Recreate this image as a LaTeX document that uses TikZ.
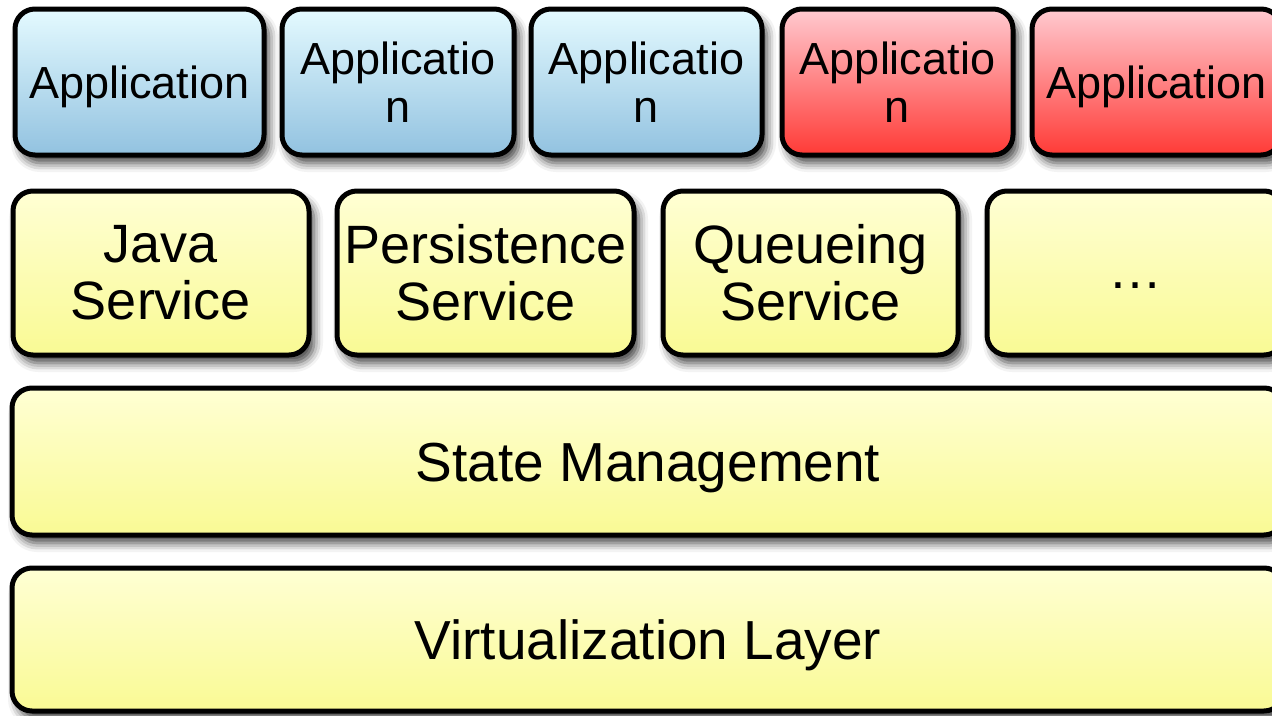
\documentclass[tikz,border=0pt]{standalone}
\usepackage{fontspec}
\setmainfont{Liberation Sans}
\usetikzlibrary{shadows.blur}

\definecolor{apptop}{RGB}{228,250,255}
\definecolor{appbot}{RGB}{146,194,224}
\definecolor{redtop}{RGB}{255,202,208}
\definecolor{redbot}{RGB}{255,58,54}
\definecolor{yeltop}{RGB}{255,255,212}
\definecolor{yelbot}{RGB}{249,250,148}

\begin{document}
\begin{tikzpicture}[x=1pt, y=-1pt,
    box/.style={draw=black, line width=5pt, rounded corners=20pt, align=center, inner sep=0pt,
      blur shadow={shadow xshift=5pt, shadow yshift=-8pt, shadow blur radius=9pt, shadow opacity=75}},
    oneline/.style={text height=#1, text depth=0pt},
    appbox/.style={box, top color=apptop, bottom color=appbot, minimum height=146pt,
      font=\fontsize{45}{48}\selectfont},
    redbox/.style={appbox, top color=redtop, bottom color=redbot},
    svcbox/.style={box, top color=yeltop, bottom color=yelbot, minimum height=164pt,
      font=\fontsize{54}{57}\selectfont},
    layerbox/.style={box, oneline=39pt, top color=yeltop, bottom color=yelbot, minimum width=1272pt,
      font=\fontsize{55}{58}\selectfont}]
  \useasboundingbox (0, 0) rectangle (1272, 715);
  \clip (0, 0) rectangle (1272, 715);

  % applications
  \node [appbox, oneline=32pt, minimum width=249pt] (app1) at (139.5, 82) {Application};
  \node [appbox, minimum width=232pt] (app2) at (398, 82) {Applicatio\\n};
  \node [appbox, minimum width=231pt] (app3) at (646.5, 82) {Applicatio\\n};
  \node [redbox, minimum width=231pt] (app4) at (897.5, 82) {Applicatio\\n};
  \node [redbox, oneline=32pt, minimum width=249pt] (app5) at (1156.5, 82) {Application};

  % services
  \node [svcbox, minimum width=296pt] (java) at (161, 273) {Java\\Service};
  \node [svcbox, minimum width=297pt] (persist) at (485.5, 273) {Persistence\\Service};
  \node [svcbox, minimum width=295pt] (queue) at (810.5, 273) {Queueing\\Service};
  \node [svcbox, oneline=30pt, minimum width=297pt] (more) at (1135.5, 273) {…};

  % layers
  \node [layerbox, minimum height=147pt] (state) at (648, 461.5) {State Management};
  \node [layerbox, minimum height=143pt] (virt) at (648, 639.5) {Virtualization Layer};
\end{tikzpicture}
\end{document}
